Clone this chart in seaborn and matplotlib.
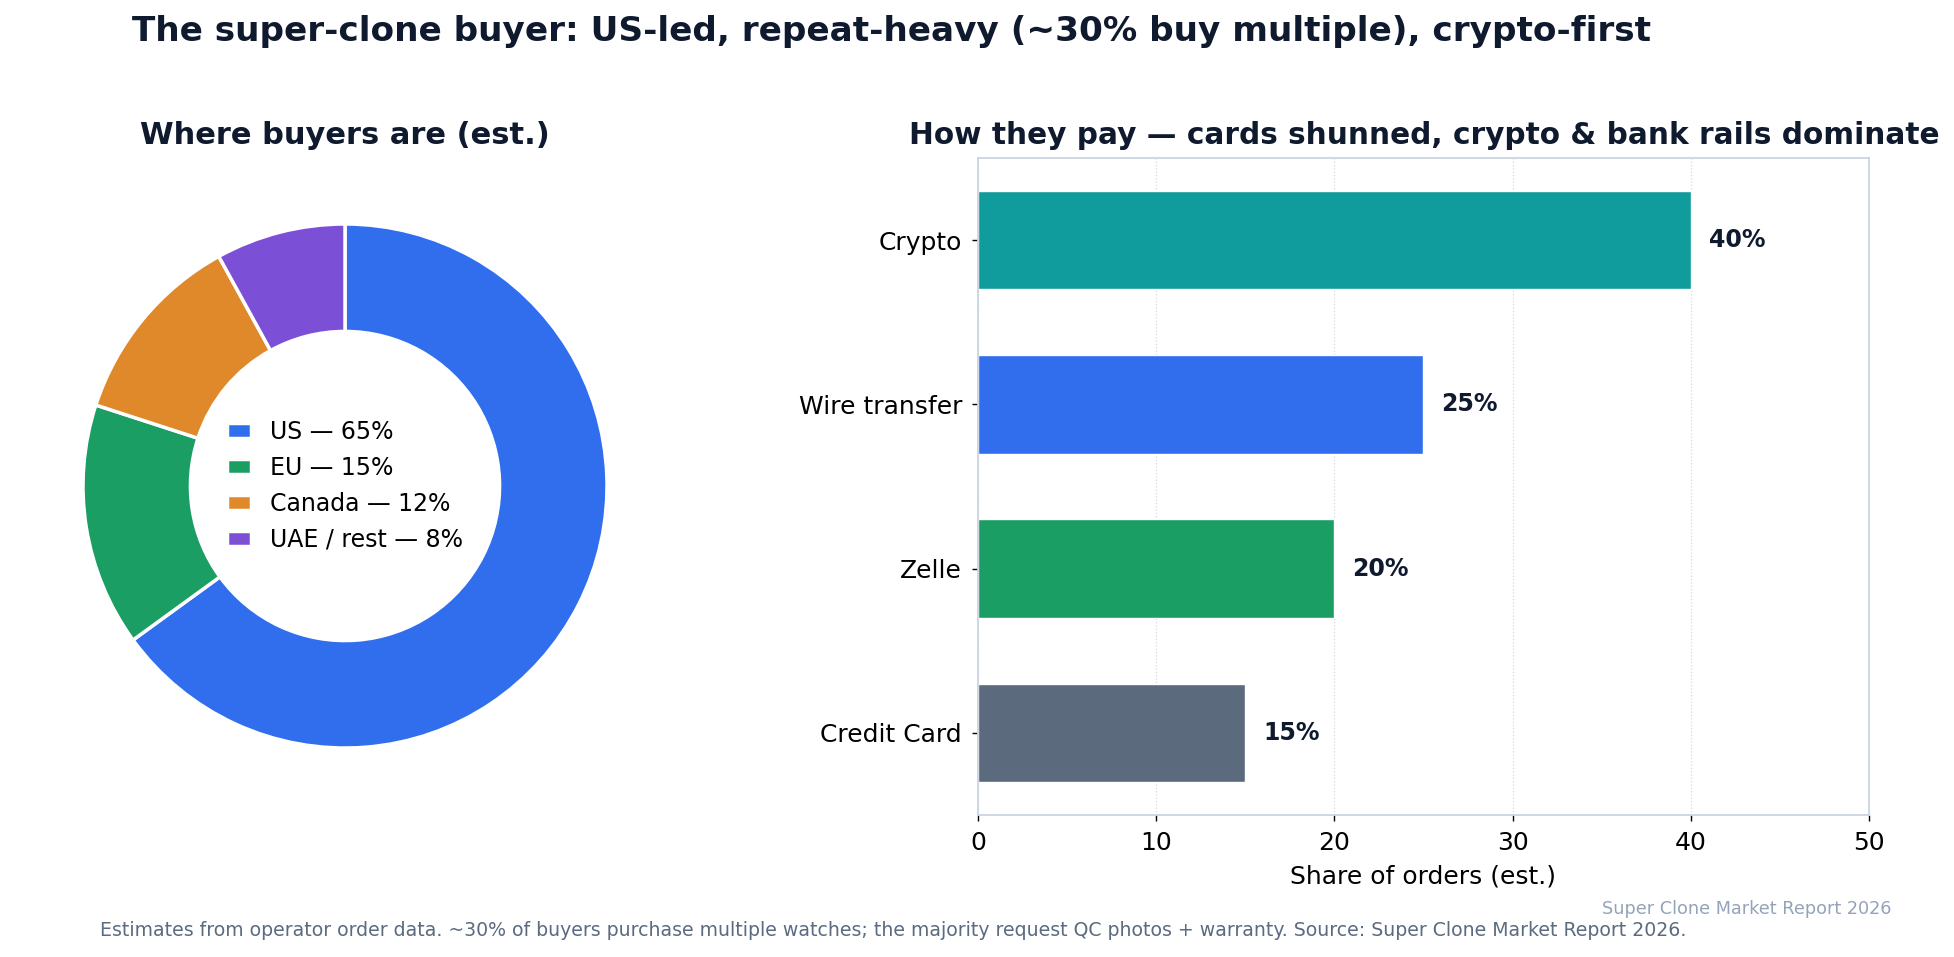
import pandas as pd
import matplotlib
matplotlib.use("Agg")
import matplotlib.pyplot as plt
import seaborn as sns

# data
regions = ["US", "EU", "Canada", "UAE / rest"]
region_share = [65, 15, 12, 8]
region_colors = ["#306eed", "#1b9e63", "#e0892a", "#7b4fd6"]

methods = ["Crypto", "Wire transfer", "Zelle", "Credit Card"]
method_share = [40, 25, 20, 15]
method_colors = ["#109b9c", "#306eed", "#1b9e63", "#5b6a7d"]

NAVY = "#0f1a2e"
SPINE = "#cbd5e1"

sns.set_theme(style="white")
plt.rcParams["font.family"] = ["DejaVu Sans"]

fig = plt.figure(figsize=(19.54, 9.57), dpi=100)
W, H = 1954, 957

# donut
cx, cy, r = 345, 486, 262
ax1 = fig.add_axes([(cx - r) / W, 1 - (cy + r) / H, 2 * r / W, 2 * r / H])
wedges, _ = ax1.pie(region_share, colors=region_colors, startangle=90, counterclock=False,
                    wedgeprops=dict(width=0.41, edgecolor="white", linewidth=2.5))
ax1.set_xlim(-1, 1)
ax1.set_ylim(-1, 1)
ax1.set_aspect("equal")
ax1.axis("off")
labels = [f"{n} \u2014 {v}%" for n, v in zip(regions, region_share)]
leg = ax1.legend(wedges, labels, loc="center", frameon=False, fontsize=17,
                 handlelength=1.0, handleheight=0.6, labelspacing=0.5)
for t in leg.get_texts():
    t.set_color("black")

# bars
ax2 = fig.add_axes([978 / W, 1 - 815 / H, (1869 - 978) / W, (815 - 158) / H])
df = pd.DataFrame({"method": methods, "share": method_share})
sns.barplot(data=df, y="method", x="share", hue="method", palette=method_colors,
            legend=False, width=0.6, saturation=1, ax=ax2)
ax2.set_xlim(0, 50)
ax2.set_xticks(range(0, 51, 10))
ax2.grid(axis="x", linestyle=":", color="#d5d9df", linewidth=0.9)
ax2.set_axisbelow(True)
for s in ax2.spines.values():
    s.set_visible(True)
    s.set_color(SPINE)
    s.set_linewidth(1.3)
ax2.tick_params(axis="both", labelsize=18, colors="black", length=4.5, width=1,
                pad=7, left=True, bottom=True)
ax2.set_ylabel("")
ax2.set_xlabel("Share of orders (est.)", fontsize=18, labelpad=7, color="black")
for c in ax2.containers:
    ax2.bar_label(c, fmt="%d%%", padding=13, fontsize=17, fontweight="bold", color=NAVY)

# titles and notes
fig.text(892 / W, 1 - 31 / H, "The super-clone buyer: US-led, repeat-heavy (~30% buy multiple), crypto-first",
         ha="center", va="center", fontsize=24.7, fontweight="bold", color=NAVY)
fig.text(345 / W, 1 - 135 / H, "Where buyers are (est.)", ha="center", va="center",
         fontsize=22, fontweight="bold", color=NAVY)
fig.text(1424 / W, 1 - 135 / H, "How they pay \u2014 cards shunned, crypto & bank rails dominate",
         ha="center", va="center", fontsize=21.3, fontweight="bold", color=NAVY)
fig.text(100 / W, 1 - 930 / H,
         "Estimates from operator order data. ~30% of buyers purchase multiple watches; the majority request QC photos + warranty. Source: Super Clone Market Report 2026.",
         ha="left", va="center", fontsize=13.6, color="#5b6b80")
fig.text(1892 / W, 1 - 909 / H, "Super Clone Market Report 2026", ha="right", va="center",
         fontsize=12.7, color="#94a3b8")

fig.savefig("out.png", dpi=100)
